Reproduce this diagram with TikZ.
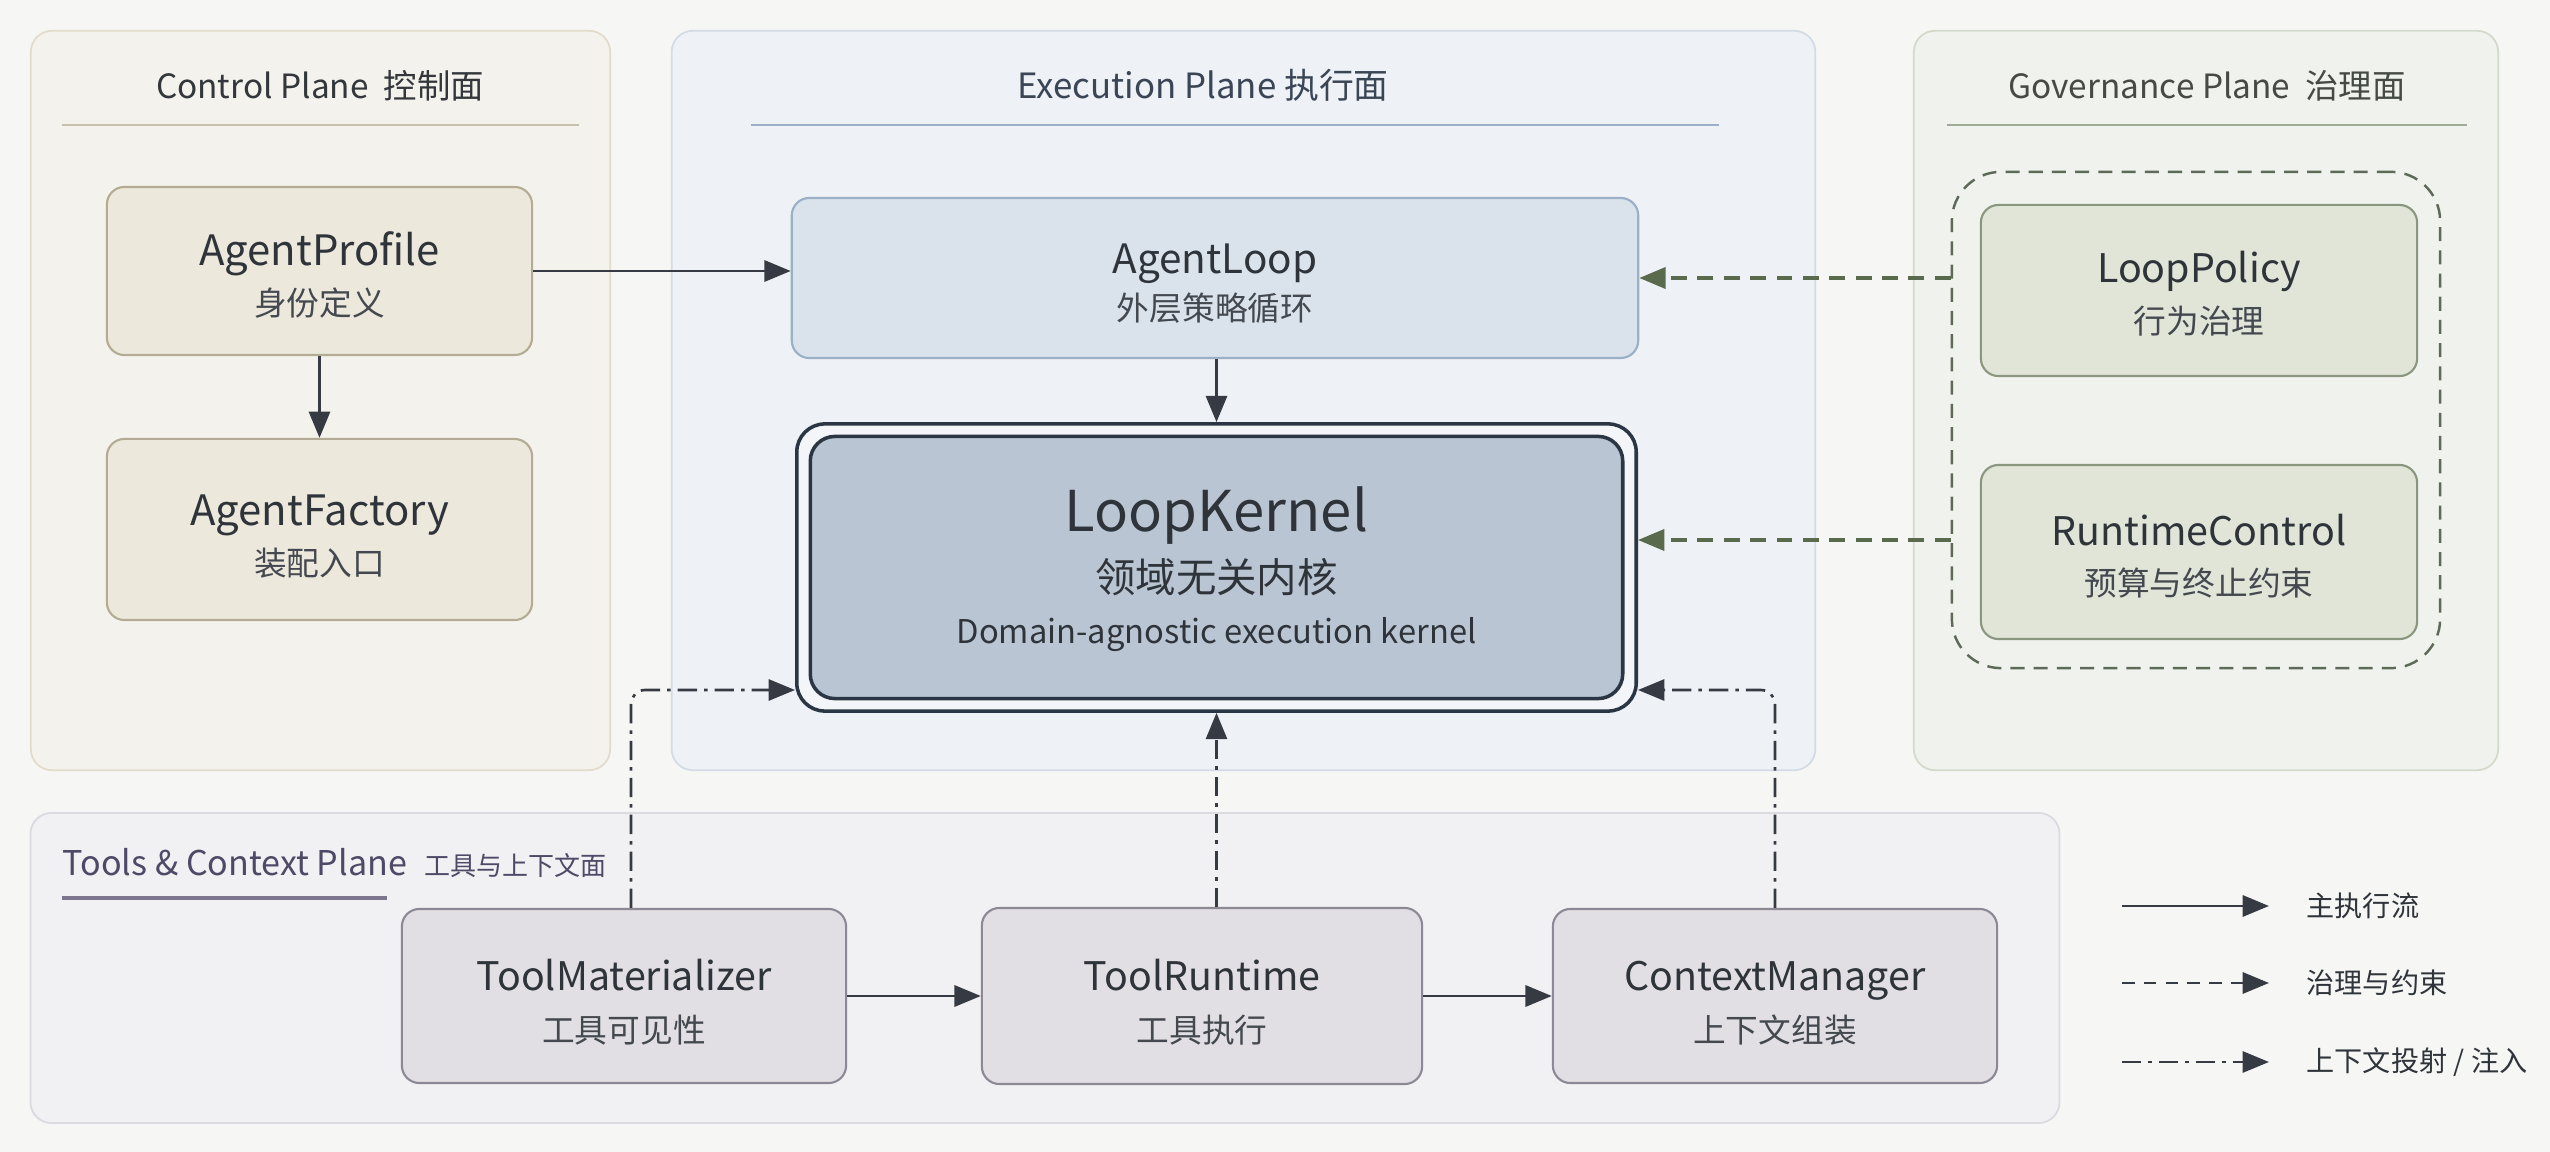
\documentclass[tikz,border=0pt]{standalone}
\usepackage{fontspec}
\setmainfont{Noto Sans CJK SC}
\usetikzlibrary{arrows.meta,calc}
\definecolor{bg}{HTML}{F6F6F4}
\definecolor{txt}{HTML}{2F343B}
\definecolor{cpfill}{HTML}{F4F2EC}\definecolor{cpdraw}{HTML}{E2DCCB}
\definecolor{cbfill}{HTML}{ECE8DC}\definecolor{cbdraw}{HTML}{B3AB93}
\definecolor{epfill}{HTML}{EEF1F5}\definecolor{epdraw}{HTML}{D3DCE6}
\definecolor{alfill}{HTML}{DAE3EC}\definecolor{aldraw}{HTML}{9BB0C6}
\definecolor{kofill}{HTML}{F3F5F8}\definecolor{kdraw}{HTML}{2B3644}
\definecolor{kifill}{HTML}{B9C5D2}
\definecolor{gpfill}{HTML}{F0F2ED}\definecolor{gpdraw}{HTML}{D3DACB}
\definecolor{gbfill}{HTML}{E0E5D8}\definecolor{gbdraw}{HTML}{8A977E}
\definecolor{grpdraw}{HTML}{5E6A58}
\definecolor{govgreen}{HTML}{5A6A4C}
\definecolor{tpfill}{HTML}{F1F0F3}\definecolor{tpdraw}{HTML}{DCD9E1}
\definecolor{tbfill}{HTML}{E1DFE4}\definecolor{tbdraw}{HTML}{8C8894}
\definecolor{tptxt}{HTML}{4F4968}
\definecolor{arr}{HTML}{363B43}
\definecolor{cptxt}{HTML}{33373B}
\definecolor{eptxt}{HTML}{3A4555}
\definecolor{gptxt}{HTML}{454B43}
\tikzset{
  panel/.style={rounded corners=6pt, line width=0.5pt, inner sep=0pt},
  box/.style={rounded corners=5pt, line width=0.6pt, inner sep=0pt},
  ttl/.style={inner sep=0pt, anchor=base, text=txt, font=\fontsize{11.6}{14}\selectfont},
  sub/.style={inner sep=0pt, anchor=base, text=txt!90, font=\fontsize{9.3}{11}\selectfont},
  ptitle/.style={inner sep=0pt, anchor=base, font=\fontsize{9.5}{12}\selectfont},
  tip/.style={-{Triangle[length=7.5pt,width=6pt]}},
  mainflow/.style={tip, draw=arr, line width=0.85pt},
  govflow/.style={tip, draw=govgreen, line width=1pt, dash pattern=on 4.5pt off 3pt},
  govlegend/.style={tip, draw=arr, line width=0.85pt, dash pattern=on 3.6pt off 2.6pt},
  ctxflow/.style={tip, draw=arr, line width=0.75pt, dash pattern=on 5.5pt off 2pt on 1pt off 2pt, rounded corners=4pt},
  legtxt/.style={inner sep=0pt, anchor=west, text=txt, font=\fontsize{8}{10}\selectfont},
}
\begin{document}
\begin{tikzpicture}[x=0.01cm,y=-0.01cm]
\fill[bg] (0,0) rectangle (2550,1152);
\useasboundingbox (0,0) rectangle (2550,1152);

% ---------------- panels
\node[panel, fill=cpfill, draw=cpdraw, minimum width=5.79cm, minimum height=7.39cm] (cp) at (320.5,400.5) {};
\node[panel, fill=epfill, draw=epdraw, minimum width=11.43cm, minimum height=7.39cm] (ep) at (1243.5,400.5) {};
\node[panel, fill=gpfill, draw=gpdraw, minimum width=5.84cm, minimum height=7.39cm] (gp) at (2206,400.5) {};
\node[panel, fill=tpfill, draw=tpdraw, minimum width=20.28cm, minimum height=3.10cm] (tp) at (1045,968) {};

% panel titles
\node[ptitle, text=cptxt] (cpt) at (320,99) {Control Plane\hspace{0.45em}控制面};
\draw[draw=cbdraw!75, line width=0.6pt] (62,125) -- (579,125);
\node[ptitle, text=eptxt, font=\fontsize{9.9}{12}\selectfont] (ept) at (1203,99) {Execution Plane 执行面};
\draw[draw=aldraw, line width=0.6pt] (751,125) -- (1719,125);
\node[ptitle, text=gptxt] (gpt) at (2207,99) {Governance Plane\hspace{0.45em}治理面};
\draw[draw=gbdraw!80, line width=0.6pt] (1947,125) -- (2467,125);
\node[ptitle, text=tptxt, anchor=base west, font=\fontsize{9.7}{12}\selectfont] (tpt) at (62,876) {Tools \& Context Plane\hspace{0.5em}{\fontsize{7.4}{9}\selectfont 工具与上下文面}};
\draw[draw=tptxt!75, line width=1pt] (62,898) -- (387,898);

% ---------------- governance group
\node[rounded corners=14pt, draw=grpdraw, line width=0.7pt, dash pattern=on 4pt off 2.6pt, minimum width=4.88cm, minimum height=4.96cm, inner sep=0pt] (grp) at (2196,420) {};

% ---------------- boxes
\node[box, fill=cbfill, draw=cbdraw, minimum width=4.25cm, minimum height=1.68cm] (ap) at (319.5,271) {};
\node[ttl, font=\fontsize{11.9}{14}\selectfont] (apt) at (319.5,266) {AgentProfile};
\node[sub] (aps) at (319.5,316) {身份定义};

\node[box, fill=cbfill, draw=cbdraw, minimum width=4.25cm, minimum height=1.81cm] (af) at (319.5,529.5) {};
\node[ttl, font=\fontsize{11.9}{14}\selectfont] (aft) at (319.5,526) {AgentFactory};
\node[sub] (afs) at (319.5,576) {装配入口};

\node[box, fill=alfill, draw=aldraw, minimum width=8.46cm, minimum height=1.60cm] (al) at (1215,278) {};
\node[ttl, font=\fontsize{11.5}{14}\selectfont] (alt) at (1215,274) {AgentLoop};
\node[sub] (als) at (1215,321) {外层策略循环};

\node[rounded corners=8pt, fill=kofill, draw=kdraw, line width=1pt, minimum width=8.39cm, minimum height=2.87cm, inner sep=0pt] (lk) at (1216.5,567.5) {};
\node[rounded corners=7pt, fill=kifill, draw=kdraw, line width=1pt, minimum width=8.12cm, minimum height=2.62cm, inner sep=0pt] (lki) at (1216.5,567.5) {};
\node[inner sep=0pt, anchor=base, text=txt, font=\fontsize{16}{19}\selectfont] (lkt) at (1216.5,532) {LoopKernel};
\node[inner sep=0pt, anchor=base, text=txt, font=\fontsize{11.5}{14}\selectfont] (lks) at (1216.5,593) {领域无关内核};
\node[inner sep=0pt, anchor=base, text=txt, font=\fontsize{9.3}{12}\selectfont] (lke) at (1216.5,644) {Domain-agnostic execution kernel};

\node[box, fill=gbfill, draw=gbdraw, minimum width=4.36cm, minimum height=1.71cm] (lp) at (2199,290.5) {};
\node[ttl, font=\fontsize{11.2}{14}\selectfont] (lpt) at (2199,283) {LoopPolicy};
\node[sub] (lps) at (2199,334) {行为治理};

\node[box, fill=gbfill, draw=gbdraw, minimum width=4.36cm, minimum height=1.74cm] (rc) at (2199,552) {};
\node[ttl, font=\fontsize{11.2}{14}\selectfont] (rct) at (2199,546) {RuntimeControl};
\node[sub] (rcs) at (2199,596) {预算与终止约束};

\node[box, fill=tbfill, draw=tbdraw, minimum width=4.44cm, minimum height=1.74cm] (tm) at (624,996) {};
\node[ttl, font=\fontsize{11.2}{14}\selectfont] (tmt) at (624,990) {ToolMaterializer};
\node[sub] (tms) at (624,1042) {工具可见性};

\node[box, fill=tbfill, draw=tbdraw, minimum width=4.40cm, minimum height=1.76cm] (tr) at (1202,996) {};
\node[ttl, font=\fontsize{11.2}{14}\selectfont] (trt) at (1202,990) {ToolRuntime};
\node[sub] (trs) at (1202,1042) {工具执行};

\node[box, fill=tbfill, draw=tbdraw, minimum width=4.44cm, minimum height=1.74cm] (cm) at (1775,996) {};
\node[ttl, font=\fontsize{11.2}{14}\selectfont] (cmt) at (1775,990) {ContextManager};
\node[sub] (cms) at (1775,1042) {上下文组装};

% ---------------- connectors
\coordinate (rcy) at (0,540);
\coordinate (ctxy) at (0,690);
\coordinate (tmx) at (631,0);

\draw[mainflow] (ap.east) -- (al.west |- ap.east);
\draw[mainflow] (ap.south) -- (af.north);
\draw[mainflow] (al.south -| lk.north) -- (lk.north);
\draw[govflow] (grp.west |- al.east) -- (al.east);
\draw[govflow] (grp.west |- rcy) -- (lk.east |- rcy);
\draw[ctxflow] (tm.north -| tmx) |- (lk.west |- ctxy);
\draw[ctxflow] (tr.north -| lk.south) -- (lk.south);
\draw[ctxflow] (cm.north) |- (lk.east |- ctxy);
\draw[mainflow] (tm.east) -- (tr.west);
\draw[mainflow] (tr.east) -- (cm.west);

% ---------------- legend
\coordinate (l1a) at (2122,906); \coordinate (l1b) at (2269,906);
\coordinate (l2a) at (2122,983); \coordinate (l2b) at (2269,983);
\coordinate (l3a) at (2122,1062); \coordinate (l3b) at (2269,1062);
\draw[mainflow] (l1a) -- (l1b);
\draw[govlegend] (l2a) -- (l2b);
\draw[ctxflow] (l3a) -- (l3b);
\node[legtxt] (lg1) at (2306,906) {主执行流};
\node[legtxt] (lg2) at (2306,983) {治理与约束};
\node[legtxt] (lg3) at (2306,1062) {上下文投射 / 注入};
\end{tikzpicture}
\end{document}
